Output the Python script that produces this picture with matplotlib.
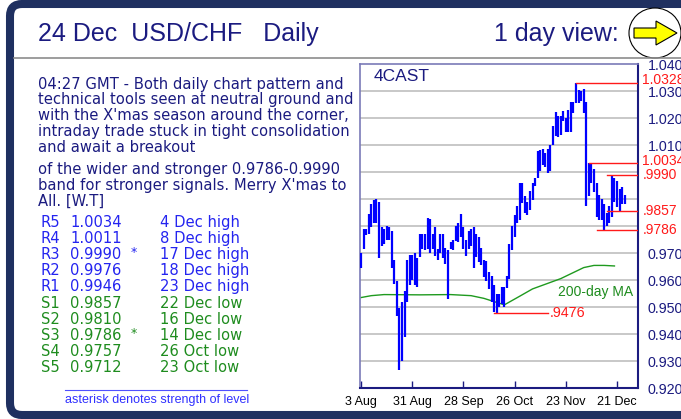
# -*- coding: utf-8 -*-
"""
USD/CHF daily chart, 24 Dec - recreation of the 4CAST snapshot.
"""

import matplotlib
matplotlib.use("Agg")
import matplotlib.pyplot as plt
import pandas as pd
from matplotlib.patches import FancyBboxPatch, Ellipse, Polygon
from matplotlib.transforms import offset_copy

# -----------------------------
# Data
# -----------------------------
dates = pd.bdate_range("2015-08-03", "2015-12-24")

highs = [
    0.9700, 0.9790, 0.9790, 0.9845, 0.9880, 0.9895, 0.9900, 0.9890, 0.9795, 0.9790,
    0.9800, 0.9795, 0.9780, 0.9675, 0.9597, 0.9496, 0.9520, 0.9560, 0.9675, 0.9693,
    0.9693, 0.9700, 0.9680, 0.9770, 0.9770, 0.9770, 0.9830, 0.9825, 0.9770, 0.9795,
    0.9715, 0.9770, 0.9770, 0.9720, 0.9710, 0.9740, 0.9750, 0.9800, 0.9810, 0.9845,
    0.9795, 0.9750, 0.9780, 0.9790, 0.9795, 0.9770, 0.9760, 0.9720, 0.9675, 0.9670,
    0.9630, 0.9615, 0.9580, 0.9550, 0.9550, 0.9575, 0.9575, 0.9615, 0.9735, 0.9800,
    0.9840, 0.9873, 0.9960, 0.9960, 0.9910, 0.9890, 0.9928, 0.9960, 0.9978, 1.0077,
    1.0083, 1.0085, 1.0070, 1.0085, 1.0100, 1.0172, 1.0221, 1.0206, 1.0206, 1.0225,
    1.0200, 1.0230, 1.0260, 1.0258, 1.0328, 1.0304, 1.0300, 1.0306, 1.0260, 1.0034,
    1.0030, 1.0011, 0.9960, 0.9913, 0.9900, 0.9880, 0.9850, 0.9873, 0.9990, 0.9976,
    0.9965, 0.9938, 0.9946, 0.9915,
]
lows = [
    0.9645, 0.9715, 0.9768, 0.9770, 0.9795, 0.9810, 0.9810, 0.9680, 0.9725, 0.9735,
    0.9750, 0.9750, 0.9645, 0.9585, 0.9465, 0.9265, 0.9300, 0.9390, 0.9520, 0.9580,
    0.9600, 0.9580, 0.9575, 0.9685, 0.9715, 0.9710, 0.9715, 0.9700, 0.9715, 0.9690,
    0.9675, 0.9700, 0.9680, 0.9660, 0.9530, 0.9715, 0.9710, 0.9745, 0.9740, 0.9760,
    0.9715, 0.9690, 0.9715, 0.9725, 0.9645, 0.9685, 0.9665, 0.9655, 0.9610, 0.9595,
    0.9565, 0.9520, 0.9480, 0.9476, 0.9500, 0.9510, 0.9500, 0.9570, 0.9605, 0.9712,
    0.9760, 0.9810, 0.9823, 0.9885, 0.9848, 0.9840, 0.9860, 0.9898, 0.9947, 0.9978,
    1.0002, 1.0027, 1.0020, 0.9996, 1.0002, 1.0100, 1.0132, 1.0130, 1.0138, 1.0188,
    1.0147, 1.0147, 1.0150, 1.0218, 1.0256, 1.0255, 1.0262, 1.0217, 0.9875, 0.9910,
    0.9960, 0.9927, 0.9834, 0.9822, 0.9822, 0.9786, 0.9800, 0.9810, 0.9835, 0.9888,
    0.9870, 0.9857, 0.9882, 0.9882,
]

# 200-day moving average (read at a few bars)
ma_idx = [0, 4, 9, 23, 35, 43, 48, 52, 56, 62, 67, 78, 87, 91, 95, 99]
ma_val = [0.9535, 0.9542, 0.9546, 0.9545, 0.9546, 0.9542, 0.9532, 0.9520, 0.9508,
          0.9540, 0.9567, 0.9605, 0.9646, 0.9654, 0.9654, 0.9652]

# marked levels: value, label, first bar
level_val = [1.0328, 1.0034, 0.9990, 0.9857, 0.9786]
level_txt = ["1.0328", "1.0034", ".9990", ".9857", ".9786"]
level_from = [84, 89, 96, 96, 92]
low_val, low_txt, low_from, low_to = 0.9476, ".9476", 52, 73

tick_dates = ["2015-08-03", "2015-08-31", "2015-09-28", "2015-10-26", "2015-11-23", "2015-12-21"]
tick_labels = ["3 Aug", "31 Aug", "28 Sep", "26 Oct", "23 Nov", "21 Dec"]
ytick_vals = [1.040, 1.030, 1.020, 1.010, 0.970, 0.960, 0.950, 0.940, 0.930, 0.920]
grid_vals = [1.030, 1.020, 1.010, 1.000, 0.990, 0.980, 0.970, 0.960, 0.950, 0.940, 0.930]

title = "24 Dec  USD/CHF   Daily"
comment_1 = [
    "04:27 GMT - Both daily chart pattern and",
    "technical tools seen at neutral ground and",
    "with the X'mas season around the corner,",
    "intraday trade stuck in tight consolidation",
    "and await a breakout",
]
comment_2 = [
    "of the wider and stronger 0.9786-0.9990",
    "band for stronger signals. Merry X'mas to",
    "All. [W.T]",
]
lvl_name = ["R5", "R4", "R3", "R2", "R1", "S1", "S2", "S3", "S4", "S5"]
lvl_price = ["1.0034", "1.0011", "0.9990", "0.9976", "0.9946",
             "0.9857", "0.9810", "0.9786", "0.9757", "0.9712"]
lvl_star = ["", "", "*", "", "", "", "", "*", "", ""]
lvl_desc = ["4 Dec high", "8 Dec high", "17 Dec high", "18 Dec high", "23 Dec high",
            "22 Dec low", "16 Dec low", "14 Dec low", "26 Oct low", "23 Oct low"]

NAVY = "#1b1b80"
BLUE = "#2424f0"
GREEN = "#1e8c1e"
RED = "#ff1a1a"

# -----------------------------
# Figure + background (pixel coordinates)
# -----------------------------
W, H = 681, 419
fig = plt.figure(figsize=(W / 100, H / 100), dpi=100)
bg = fig.add_axes([0, 0, 1, 1])
bg.set_xlim(0, W)
bg.set_ylim(H, 0)
bg.axis("off")

frame = FancyBboxPatch((10, 4), 720, 411, boxstyle="round,pad=0,rounding_size=12",
                       fc="white", ec="#1f3060", lw=5.8)
bg.add_patch(frame)
bg.plot([14, W], [58, 58], color="#8c8c8c", lw=1.2)

bg.text(38, 34, title, fontsize=18, color=NAVY, family="Liberation Sans", va="center")
bg.text(619, 34, "1 day view:", fontsize=18, color=NAVY, family="Liberation Sans",
        va="center", ha="right")
bg.add_patch(Ellipse((655, 33), 52, 50, fc="white", ec="black", lw=0.8))
bg.add_patch(Polygon([(634, 28), (656, 28), (656, 21), (677, 33), (656, 45), (656, 38), (634, 38)],
                     closed=True, fc="#ffff00", ec="black", lw=0.8))

# comment text
for k, line in enumerate(comment_1):
    bg.text(38, 84 + k * 15.8, line, fontsize=10.6, color=NAVY, family="DejaVu Sans", va="center")
for k, line in enumerate(comment_2):
    bg.text(38, 169 + k * 16.2, line, fontsize=10.6, color=NAVY, family="DejaVu Sans", va="center")

# support / resistance table
for k in range(len(lvl_name)):
    c = BLUE if lvl_name[k].startswith("R") else GREEN
    y = 222 + k * 16.2
    bg.text(41, y, lvl_name[k], fontsize=10.6, color=c, family="DejaVu Sans", va="center")
    bg.text(70, y, lvl_price[k], fontsize=10.6, color=c, family="DejaVu Sans", va="center")
    bg.text(131, y - 2, lvl_star[k], fontsize=9, color=c, family="DejaVu Sans", va="center")
    bg.text(160, y, lvl_desc[k], fontsize=10.6, color=c, family="DejaVu Sans", va="center")

bg.plot([65, 247], [390, 390], color="#5050ff", lw=0.8)
bg.text(65, 399.5, "asterisk denotes strength of level", fontsize=9, color="#3030ff",
        family="Liberation Sans", va="center")

# -----------------------------
# Chart
# -----------------------------
x0, x1, y0, y1 = 360, 638, 64, 388
ax = fig.add_axes([x0 / W, (H - y1) / H, (x1 - x0) / W, (y1 - y0) / H])
ax.set_facecolor("white")
idx = list(range(len(dates)))
xmax = 108.2

for g in grid_vals:
    ax.axhline(g, color="#c8c8c8", lw=1.4, zorder=0)

ax.vlines(idx, lows, highs, color="#0000ff", lw=1.6, zorder=3)
ax.plot(ma_idx, ma_val, color="#1f9a1f", lw=1.0, zorder=2)
ax.text(77, 0.9555, "200-day MA", fontsize=10, color=GREEN, family="Liberation Sans", va="center")

# right-hand red labels, nudged a little (points) so they do not collide
label_nudge = [2.5, 1.2, -0.5, 0, 0]
for v, t, s, dy in zip(level_val, level_txt, level_from, label_nudge):
    ax.plot([s, xmax], [v, v], color=RED, lw=1.0, zorder=4)
    tr = offset_copy(ax.get_yaxis_transform(), fig=fig, x=0, y=dy, units="points")
    ax.text(1.016, v, t, transform=tr, fontsize=10, color=RED,
            family="Liberation Sans", va="center", clip_on=False)
ax.plot([low_from, low_to], [low_val, low_val], color=RED, lw=1.0, zorder=4)
ax.text(low_to + 0.6, low_val, low_txt, fontsize=10.3, color=RED, family="Liberation Sans", va="center")
ax.text(5, 1.0355, "4CAST", fontsize=12.5, color=NAVY, family="Liberation Sans", va="center")

ax.set_xlim(-0.4, xmax)
ax.set_ylim(0.920, 1.040)

tick_pos = [dates.get_loc(pd.Timestamp(d)) for d in tick_dates]
ax.set_xticks(tick_pos)
ax.set_xticklabels(tick_labels, fontsize=9, family="Liberation Sans")
ax.tick_params(axis="x", direction="in", length=5, width=1, color=NAVY, pad=6)

ax.yaxis.tick_right()
ax.set_yticks(ytick_vals)
ax.set_yticklabels([f"{v:.3f}" for v in ytick_vals], fontsize=10.3, color=NAVY,
                   family="Liberation Sans")
ax.tick_params(axis="y", length=0, pad=7)

ax.spines["top"].set_color("#7a7ab8")
ax.spines["left"].set_color("#7a7ab8")
ax.spines["top"].set_linewidth(1.2)
ax.spines["left"].set_linewidth(1.2)
ax.spines["right"].set_color(NAVY)
ax.spines["bottom"].set_color(NAVY)
ax.spines["right"].set_linewidth(1.5)
ax.spines["bottom"].set_linewidth(1.5)

fig.savefig("out.png", dpi=100)
